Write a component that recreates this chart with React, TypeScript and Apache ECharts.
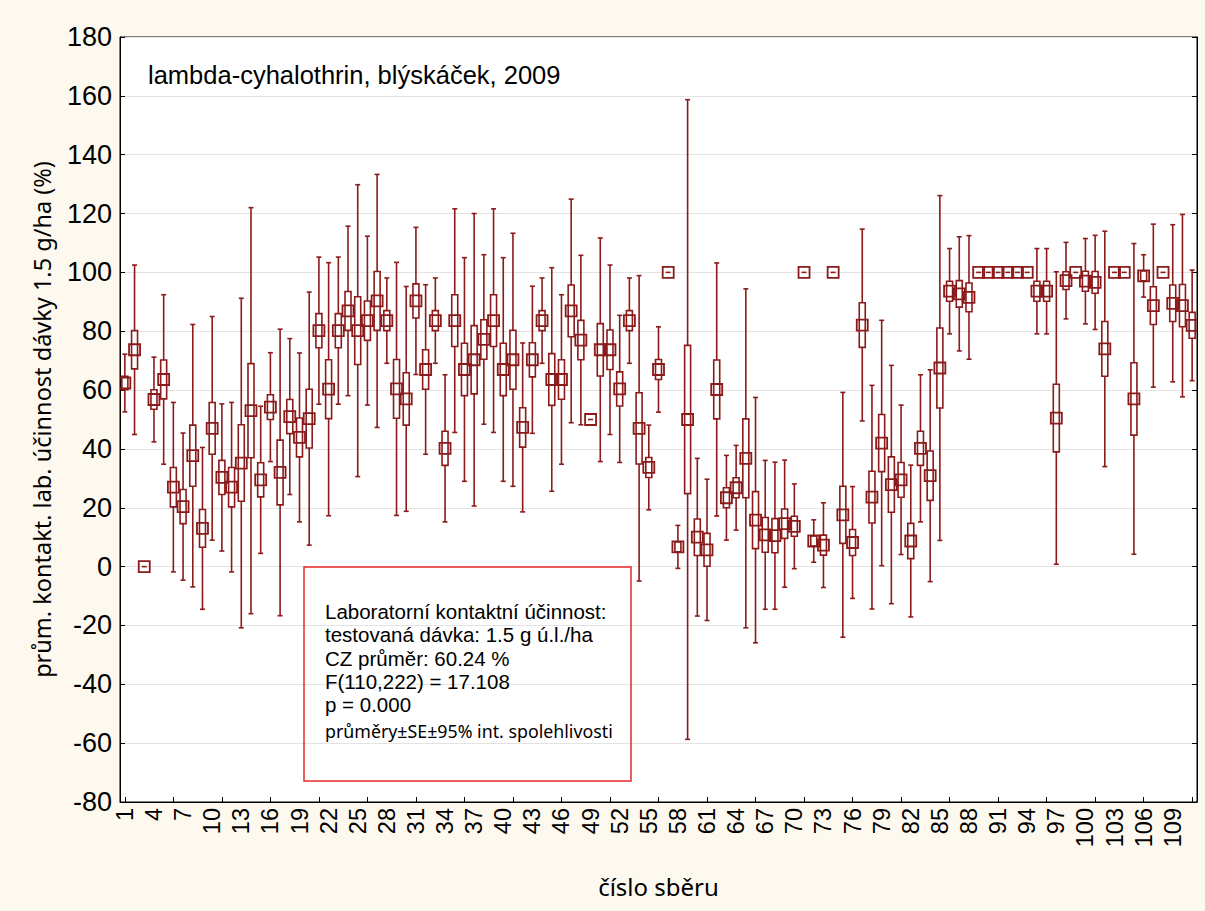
import React, { useEffect, useRef } from "react";
import * as echarts from "echarts";

// category labels: collection numbers 1..111
const categories: string[] = [
  "1","2","3","4","5","6","7","8","9","10","11","12","13","14","15","16","17","18","19","20",
  "21","22","23","24","25","26","27","28","29","30","31","32","33","34","35","36","37","38","39","40",
  "41","42","43","44","45","46","47","48","49","50","51","52","53","54","55","56","57","58","59","60",
  "61","62","63","64","65","66","67","68","69","70","71","72","73","74","75","76","77","78","79","80",
  "81","82","83","84","85","86","87","88","89","90","91","92","93","94","95","96","97","98","99","100",
  "101","102","103","104","105","106","107","108","109","110","111"
];

// mean efficacy (%)
const means: number[] = [
  62.4, 73.7, 0, 56.8, 63.6, 27, 20.4, 37.7, 13, 47,
  30.3, 27, 35.2, 53, 29.5, 54.2, 32, 51, 43.9, 50.3,
  80.2, 60.3, 80.2, 86.9, 80.2, 83.6, 90.3, 83.6, 60.4, 57,
  90.3, 67, 83.6, 40.2, 83.6, 67, 70.3, 77.2, 83.6, 67,
  70.3, 47.3, 70.3, 83.6, 63.6, 63.6, 86.9, 77, 50, 73.7,
  73.7, 60.4, 83.6, 47, 33.7, 67, 100, 6.7, 50, 10,
  5.7, 60.2, 23.4, 26.8, 36.8, 15.8, 10.8, 10.5, 14.6, 13.7,
  100, 8.7, 7.3, 100, 17.6, 8.2, 82.1, 23.6, 42, 27.9,
  29.5, 8.7, 40.2, 30.9, 67.5, 93.6, 92.7, 91.5, 100, 100,
  100, 100, 100, 100, 93.6, 93.6, 50.5, 97.2, 100, 97,
  96.6, 74, 100, 100, 57, 98.8, 88.7, 100, 89.5, 88.7,
  82
];

// standard error (half height of the box)
const stdErr: number[] = [
  2.3, 6.5, 0, 3.3, 6.6, 6.7, 5.8, 10.4, 6.4, 8.8,
  5.8, 6.7, 13, 16, 5.8, 4.2, 11, 5.8, 6.6, 10,
  5.8, 10, 5.8, 6.6, 11.5, 6.7, 10, 3.4, 10, 8.9,
  5.8, 6.7, 3.4, 5.8, 8.8, 8.9, 11.6, 6.7, 8.8, 8.9,
  10, 6.7, 5.8, 3.4, 8.8, 6.7, 8.8, 6.7, 0, 8.9,
  6.7, 5.8, 3.4, 12.1, 3.4, 3.4, 0, 1.7, 25.2, 6.2,
  5.6, 10, 3.4, 3.4, 13.4, 9.7, 5.9, 5.8, 5, 3.4,
  0, 1.7, 3.4, 0, 9.7, 4.4, 7.6, 8.8, 9.7, 9.4,
  5.9, 6, 5.8, 8.4, 13.6, 3.4, 4.5, 4.9, 0, 0,
  0, 0, 0, 0, 3.4, 3.4, 11.5, 3, 0, 3.4,
  3.7, 9.3, 0, 0, 12.3, 1.7, 6.4, 0, 6.2, 7.2,
  4.4
];

// half width of the 95% confidence interval
const ci95: number[] = [
  9.8, 28.8, 0, 14.4, 28.8, 28.8, 25, 44.6, 27.5, 38,
  25, 28.8, 56, 69, 25, 18.5, 48.7, 26.5, 28.7, 43,
  25, 43, 25, 28.8, 49.6, 28.7, 43, 14.5, 43, 38.2,
  25, 28.8, 14.5, 25, 38, 38, 49.7, 28.8, 38, 38,
  43, 28.7, 25, 14.5, 38, 28.8, 38, 28.8, 0, 38,
  28.8, 25, 14.5, 51.9, 14.4, 14.5, 0, 7.3, 108.7, 26.8,
  24, 43, 14.4, 14.4, 57.6, 41.7, 25.3, 25, 21.6, 14.4,
  0, 7.2, 14.4, 0, 41.6, 19, 32.6, 38, 41.7, 40.5,
  25.4, 25.8, 25, 36, 58.6, 14.5, 19.4, 21, 0, 0,
  0, 0, 0, 0, 14.5, 14.5, 49.7, 13, 0, 14.5,
  16, 40, 0, 0, 52.8, 7.2, 27.7, 0, 26.7, 31,
  18.8
];

const yTicks = { min: -80, max: 180, step: 20 };

const annotationTitle = "lambda-cyhalothrin, blýskáček, 2009";
const boxLines: string[] = [
  "Laboratorní kontaktní účinnost:",
  "testovaná dávka: 1.5 g ú.l./ha",
  "CZ průměr: 60.24 %",
  "F(110,222) = 17.108",
  "p = 0.000",
];
const boxLastLine = "průměry±SE±95% int. spolehlivosti";

const MARK = "#8b1a1a";
const ARIAL = '"Liberation Sans", Arial, sans-serif';
const NARROW = '"Noto Sans", sans-serif';

export default function App() {
  const ref = useRef<HTMLDivElement>(null);

  useEffect(() => {
    if (!ref.current) return;
    const chart = echarts.init(ref.current, undefined, { renderer: "svg" });

    const data = means.map((m, i) => [i, m, stdErr[i], ci95[i]]);

    const option: any = {
      animation: false,
      backgroundColor: "#fdf9ef",
      grid: {
        left: 120,
        top: 37,
        width: 1077,
        height: 765,
        show: true,
        backgroundColor: "#ffffff",
        borderColor: "#000",
        borderWidth: 1,
      },
      xAxis: {
        type: "category",
        data: categories,
        boundaryGap: true,
        name: "číslo sběru",
        nameLocation: "middle",
        nameGap: 72,
        nameTextStyle: { fontFamily: NARROW, fontSize: 24, color: "#000" },
        axisLine: { show: true, onZero: false, lineStyle: { color: "#000", width: 1 } },
        axisTick: {
          show: true,
          inside: true,
          length: 5,
          alignWithLabel: true,
          interval: (index: number) => index % 5 === 0,
          lineStyle: { color: "#000" },
        },
        axisLabel: {
          interval: (index: number) => index % 3 === 0,
          rotate: 90,
          margin: 6,
          fontFamily: ARIAL,
          fontSize: 23.5,
          color: "#000",
        },
        splitLine: { show: false },
      },
      yAxis: [
        {
          type: "value",
          min: yTicks.min,
          max: yTicks.max,
          interval: yTicks.step,
          position: "left",
          name: "prům. kontakt. lab. účinnost dávky 1.5 g/ha (%)",
          nameLocation: "middle",
          nameRotate: 90,
          nameGap: 66,
          nameTextStyle: { fontFamily: NARROW, fontSize: 23.5, color: "#000" },
          axisLine: { show: true, onZero: false, lineStyle: { color: "#000" } },
          axisTick: { show: true, inside: true, length: 5, lineStyle: { color: "#000" } },
          axisLabel: { margin: 8, fontFamily: ARIAL, fontSize: 27, color: "#000" },
          splitLine: { show: true, lineStyle: { color: "#e3e3e3", width: 1 } },
        },
        {
          type: "value",
          min: yTicks.min,
          max: yTicks.max,
          interval: yTicks.step,
          position: "right",
          axisLine: { show: true, onZero: false, lineStyle: { color: "#000" } },
          axisTick: { show: true, inside: true, length: 5, lineStyle: { color: "#000" } },
          axisLabel: { show: false },
          splitLine: { show: false },
        },
      ],
      series: [
        {
          type: "custom",
          xAxisIndex: 0,
          yAxisIndex: 0,
          encode: { x: 0, y: 1 },
          data,
          clip: true,
          renderItem: (params: any, api: any) => {
            const xi = api.value(0);
            const m = api.value(1);
            const se = api.value(2);
            const ci = api.value(3);
            const c = api.coord([xi, m]);
            const cx = c[0];
            const cy = c[1];
            const ciTop = api.coord([xi, m + ci])[1];
            const ciBot = api.coord([xi, m - ci])[1];
            const seTop = api.coord([xi, m + se])[1];
            const seBot = api.coord([xi, m - se])[1];
            const lw = 1.6;
            const children: any[] = [];
            if (ci > 0) {
              children.push(
                { type: "line", shape: { x1: cx, y1: ciTop, x2: cx, y2: seTop }, style: { stroke: MARK, lineWidth: lw } },
                { type: "line", shape: { x1: cx, y1: seBot, x2: cx, y2: ciBot }, style: { stroke: MARK, lineWidth: lw } },
                { type: "line", shape: { x1: cx - 2.5, y1: ciTop, x2: cx + 2.5, y2: ciTop }, style: { stroke: MARK, lineWidth: lw } },
                { type: "line", shape: { x1: cx - 2.5, y1: ciBot, x2: cx + 2.5, y2: ciBot }, style: { stroke: MARK, lineWidth: lw } }
              );
            }
            if (se > 0) {
              children.push({
                type: "rect",
                shape: { x: cx - 3, y: seTop, width: 6, height: seBot - seTop },
                style: { fill: "#fff", stroke: MARK, lineWidth: lw },
              });
            } else {
              children.push({
                type: "line",
                shape: { x1: cx - 2.5, y1: cy, x2: cx + 2.5, y2: cy },
                style: { stroke: MARK, lineWidth: lw },
              });
            }
            children.push({
              type: "rect",
              shape: { x: cx - 5.5, y: cy - 5.5, width: 11, height: 11 },
              style: { fill: "none", stroke: MARK, lineWidth: 1.8 },
            });
            return { type: "group", children };
          },
        },
      ],
      graphic: [
        {
          type: "text",
          x: 148,
          y: 75,
          z: 10,
          style: { text: annotationTitle, font: `25.5px ${ARIAL}`, fill: "#000", verticalAlign: "middle", align: "left" },
        },
        {
          type: "rect",
          z: 10,
          shape: { x: 304, y: 567, width: 327, height: 214 },
          style: { fill: "none", stroke: "#e62828", lineWidth: 1.5 },
        },
        ...boxLines.map((t, i) => ({
          type: "text",
          z: 10,
          x: 325,
          y: [611, 634.5, 658, 681.5, 704.5][i],
          style: { text: t, font: `20.5px ${ARIAL}`, fill: "#000", verticalAlign: "middle", align: "left" },
        })),
        {
          type: "text",
          z: 10,
          x: 325,
          y: 731,
          style: { text: boxLastLine, font: `17.8px ${NARROW}`, fill: "#000", verticalAlign: "middle", align: "left" },
        },
      ],
    };

    chart.setOption(option);
    return () => chart.dispose();
  }, []);

  return (
    <div
      ref={ref}
      style={{ position: "fixed", left: 0, top: 0, width: 1205, height: 911 }}
    />
  );
}
